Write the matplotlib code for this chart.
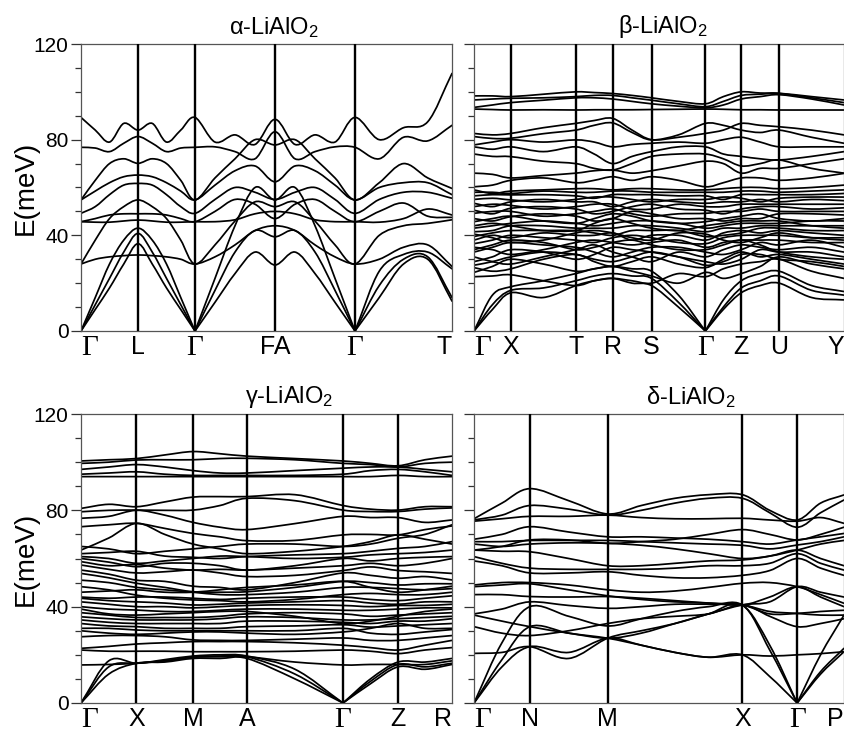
import numpy as np
import matplotlib
matplotlib.use("Agg")
import matplotlib.pyplot as plt
from matplotlib.path import Path
from matplotlib.patches import PathPatch
from matplotlib.ticker import MultipleLocator

plt.rcParams['font.family'] = ['Liberation Sans', 'DejaVu Sans']
plt.rcParams['mathtext.fontset'] = 'custom'
plt.rcParams['mathtext.rm'] = 'Liberation Sans'
plt.rcParams['mathtext.it'] = 'Liberation Sans'

# ---------------- alpha-LiAlO2 ----------------
alpha_title = "α-LiAlO$_2$"
alpha_labels = ["Γ", "L", "Γ", "FA", "Γ", "T"]
alpha_hs = [0, 57, 114, 194, 274, 371]
alpha_nint = [3, 3, 3, 3, 3]
alpha_bands = [
    [89.3, 84, 79, 86.8, 84, 86.8, 79, 84, 89.3, 79, 82, 78, 88.5, 78, 82, 79, 89.3, 80, 85, 87.5, 107.7],
    [76.8, 76.5, 75, 78.5, 81.3, 78.5, 75, 76.5, 76.8, 77, 75, 72, 83.3, 72, 75, 77, 76.8, 72, 81, 79.5, 86],
    [54.8, 63, 70, 72, 70.1, 72, 70, 63, 54.8, 64, 72, 80, 77.8, 80, 72, 64, 54.8, 62, 70, 64, 59.6],
    [54.8, 58.5, 62, 64.5, 65.2, 64.5, 62, 58.5, 54.8, 61, 67, 69, 62.4, 69, 67, 61, 54.8, 60, 62, 62, 57],
    [49.2, 52, 57, 61, 61.7, 61, 57, 52, 49.2, 55, 60, 58, 55, 58, 60, 55, 49.2, 55, 58, 58, 55.5],
    [28, 38, 47, 52, 54.8, 52, 47, 38, 28, 36, 46, 54, 52, 54, 46, 36, 28, 40, 44, 45, 46.5],
    [45.7, 45.5, 45.5, 46, 46.4, 46, 45.5, 45.5, 45.7, 45.7, 46.5, 49, 50, 49, 46.5, 45.7, 45.7, 45.5, 47, 51, 48.5],
    [45.7, 47, 48.5, 49, 49, 49, 48.5, 47, 45.7, 50, 55, 53, 47, 53, 55, 50, 45.7, 50, 53.5, 48, 47.5],
    [28, 30, 31, 31.5, 31.8, 31.5, 31, 30, 28, 31, 36, 42, 44, 42, 36, 31, 28, 30, 35, 36, 27],
    [0, 14, 28, 38, 43, 38, 28, 14, 0, 22, 44, 60, 54.8, 60, 44, 22, 0, 25, 32, 33, 26],
    [0, 11, 22, 33, 40.8, 33, 22, 11, 0, 17, 33, 42, 39.4, 42, 33, 17, 0, 19, 30, 31, 14],
    [0, 9, 18, 28, 36.5, 28, 18, 9, 0, 12, 24, 33, 27.6, 33, 24, 12, 0, 14, 28, 30, 12.5],
]

# ---------------- beta-LiAlO2 ----------------
beta_title = "β-LiAlO$_2$"
beta_labels = ["Γ", "X", "T", "R", "S", "Γ", "Z", "U", "Y"]
beta_hs = [0, 37, 102, 139, 178, 232, 268, 306, 371]
beta_nint = [1, 1, 1, 1, 1, 1, 1, 1]
beta_bands = [
    [98.3, 98.3, 98.0, 99.0, 100, 99.7, 99.3, 98.5, 97.5, 96, 95, 98, 100, 99.5, 99.4, 98, 96.6],
    [96.6, 97, 97.3, 97.5, 98, 98.5, 98.5, 97.5, 96.5, 95, 93.8, 96, 98.5, 99, 99.3, 97.5, 95.5],
    [93.5, 94.5, 95.5, 96.5, 97.5, 97.5, 97, 96, 95, 94, 93.3, 94.5, 97, 98, 98.8, 97, 94.5],
    [92.8, 92.6, 92.4, 92.5, 92.4, 92.5, 92.5, 92.5, 92.6, 92.7, 92.8, 92.7, 92.5, 92.5, 92.4, 92.4, 92.4],
    [82.6, 82, 82.6, 85, 86.8, 88, 88.9, 84, 80, 81, 82.6, 84, 86.8, 86, 85.4, 84, 82],
    [81.3, 80.5, 80.6, 82.5, 84, 86, 87, 83, 79.9, 82, 86.8, 86, 84, 83, 84, 81, 78.5],
    [77.8, 79, 80, 79, 79.9, 79, 77, 78, 78.5, 79, 78.5, 80, 81, 79, 77, 77, 77],
    [77, 76, 77, 75, 77, 74, 70, 73, 75, 77, 77, 74, 73, 72, 71.5, 73, 75],
    [74, 73, 72.9, 71, 70, 68, 67.3, 70, 73, 74, 74, 72, 69, 70, 71.5, 68, 66],
    [66, 65.5, 64, 65, 66, 67, 67.3, 66, 67, 69, 71, 70, 66, 68, 68, 70, 72],
    [60.3, 61, 63, 64, 62, 63, 64.5, 63, 64.5, 63, 60.3, 62, 64, 64, 63, 64, 65.9],
    [45.7, 47, 48, 46, 45, 47, 49, 48, 46, 45, 45.7, 47, 48, 49, 47, 46, 47],
    [47, 46, 47.8, 49, 48, 46, 47, 50, 49, 47, 47, 46, 47, 47, 49, 49, 48.5],
    [49.2, 50, 50, 48, 49, 50, 51, 49, 48, 49, 49.2, 50, 50, 51, 50, 50, 50],
    [50.5, 49, 51.3, 52, 51, 49, 50, 52, 53, 51, 50.5, 49, 51, 52, 52, 51, 51.5],
    [52, 53, 52.5, 51, 52, 53, 53, 51, 51, 53, 52, 52, 53, 53, 53, 53, 53],
    [53.4, 52, 54, 55, 54, 54, 52, 54, 55, 54, 53.4, 54, 54, 55, 54, 55, 54.5],
    [55, 55.5, 54.8, 54, 55, 56, 56, 55, 54, 55, 55, 56, 55.5, 54, 55.5, 56, 56],
    [56.5, 57, 56.9, 57, 56.5, 55.5, 57, 57, 57, 56.5, 56.5, 55, 57, 57, 57, 57, 57.5],
    [58, 58, 57.5, 58.5, 58, 58, 58.5, 58.5, 58, 58, 58, 58, 58.5, 58.5, 58, 58.5, 59],
    [59, 57.5, 58.5, 59, 59.5, 59.5, 59, 59.5, 59.5, 59, 59, 59.5, 60, 60, 59.5, 60, 61],
    [22.7, 23, 23.5, 21, 19, 21, 22, 21, 20, 24, 22.7, 26, 28, 29, 30, 25, 22],
    [24.5, 27, 30, 28, 25, 26, 27, 25, 23, 20, 24.5, 22, 24, 27, 31, 28, 26],
    [26.5, 25, 26, 30, 32, 29, 27, 29, 31, 28, 26.5, 30, 33, 31, 32, 30, 28],
    [29, 31, 34, 33, 30, 32, 35, 34, 33, 31, 29, 28, 30, 34, 33, 33, 31],
    [31, 29, 28, 31, 34, 36, 33, 31, 29, 33, 31, 34, 36, 35, 34, 35, 33],
    [33, 35, 37, 36, 35, 33, 31, 33, 35, 35, 33, 32, 34, 37, 36, 38, 35],
    [35, 34, 32, 34, 37, 38, 37, 36, 37, 38, 35, 37, 38, 38, 38, 37, 37],
    [36.5, 38, 40, 39, 38, 37, 39, 40, 39, 37, 36.5, 39, 40, 40, 40, 39, 39],
    [38, 40, 39, 41, 40, 40, 41, 38, 40, 40, 38, 41, 42, 41, 42, 41, 40],
    [39.5, 41, 42, 42, 42, 41, 40, 42, 42, 42, 39.5, 40, 41, 43, 43, 42, 42],
    [41.5, 42, 44, 44, 43, 43, 43, 44, 44, 43, 41.5, 43, 43, 44, 44, 44, 44],
    [43, 44, 45, 46, 45, 44, 45, 46, 46, 45, 43, 44, 45, 45, 45, 46, 46],
    [27.5, 29, 31, 33, 32, 30, 29, 31, 33, 31, 27.5, 29, 32, 32, 30, 29, 27],
    [34, 36, 38, 37, 34, 35, 37, 38, 36, 34, 34, 36, 38, 36, 33, 31, 30],
    [40.5, 39, 37, 38, 41, 42, 41, 39, 38, 41, 40.5, 38, 37, 39, 41, 39, 38],
    [44, 45, 44, 42, 42, 45, 47, 45, 43, 42, 44, 45, 46, 46, 46, 44, 43],
    [0, 9, 16, 14, 19, 21, 22, 20, 19, 10, 0, 9, 16, 19, 20, 14, 13],
    [0, 11, 17, 18, 21, 23, 24, 23, 22, 12, 0, 10, 18, 21, 23, 17, 15],
    [0, 15, 18.5, 21, 24, 26, 27, 26, 25, 15, 0, 13, 21, 24, 25, 19, 16.5],
]

# ---------------- gamma-LiAlO2 ----------------
gamma_title = "γ-LiAlO$_2$"
gamma_labels = ["Γ", "X", "M", "A", "Γ", "Z", "R"]
gamma_hs = [0, 55.5, 112, 166, 262, 317, 371]
gamma_nint = [1, 1, 1, 1, 1, 1]
gamma_bands = [
    [100.5, 101, 101.5, 103, 104.4, 103.5, 102.5, 101.5, 100.5, 99.5, 98.5, 101, 102.5],
    [99.5, 100, 100.9, 101, 101, 101.5, 101.6, 101, 99.5, 99, 98, 99.5, 100],
    [97, 98, 99, 98, 96.5, 95.5, 95.5, 96.5, 97.5, 98, 98, 97, 96],
    [95, 95.5, 96, 95, 94.5, 94.5, 94.5, 94.5, 95, 96.5, 97, 96, 94.5],
    [94, 94, 94, 94, 94, 94, 94, 94, 94, 94, 94.5, 94, 94],
    [80.8, 82.5, 81.5, 83.5, 85.5, 85.7, 85.7, 86.5, 82, 80.5, 80.1, 81.5, 81.5],
    [79.4, 80, 80.1, 80, 80.1, 82, 85, 84, 80.1, 79.5, 79.5, 80.5, 81],
    [76.7, 77.5, 80, 78, 75, 73, 72, 74.5, 77.5, 77, 77, 75, 76],
    [73.2, 74, 74.6, 72.5, 70.4, 69, 67.4, 67.5, 69.8, 70, 69.8, 72, 73.5],
    [63.5, 68.5, 74.6, 70, 66, 64, 62, 63, 65, 67, 69.8, 68, 66],
    [62, 62.5, 63, 61, 60.5, 60, 60.8, 61.5, 62, 63, 64.2, 65, 67],
    [60.8, 60, 58, 59, 60, 61, 60.8, 60, 60.5, 61.5, 62, 62.5, 63.5],
    [60, 58.5, 56.6, 58, 58, 57, 55.2, 57, 60, 59, 60, 60.5, 60.8],
    [58.7, 57, 57.5, 56, 55.2, 55.5, 55.2, 56, 57, 58, 57, 58, 60],
    [57.3, 55.5, 54, 54.5, 55.2, 54, 52.5, 53, 55, 56.5, 55, 54.5, 53.8],
    [55.2, 53.5, 51, 50.5, 48.5, 48, 47, 50, 54, 53, 51.8, 52.5, 51.1],
    [53.8, 52, 49.7, 48, 46.2, 46, 46.2, 48, 50.5, 50, 49, 49.5, 49.5],
    [51, 50, 48, 47, 46, 45, 45, 46, 48, 48, 47.5, 47, 47.5],
    [48.3, 47, 44.8, 43.5, 42.8, 42.5, 42, 43, 45, 45.5, 45, 45, 46],
    [44, 43.5, 44, 44, 43.5, 43, 43.5, 44, 44, 43, 42.5, 43.5, 44.5],
    [43.5, 42.5, 42, 41.5, 40.7, 41, 41.5, 42, 42.5, 41.5, 41, 42, 42],
    [42, 41, 40, 40, 39.5, 40, 40.5, 40.8, 40.5, 40, 40.5, 40.5, 41],
    [40, 39, 38.6, 38, 38, 38.5, 39, 39, 38.5, 38.5, 39, 39.5, 39.5],
    [37.5, 36.5, 35.5, 35.5, 35.5, 36, 37, 37.5, 37, 36, 36.5, 37, 37.5],
    [35.8, 35, 34.5, 34.5, 34.5, 35, 35.8, 35.5, 34.5, 34.5, 35, 35.5, 36],
    [34.5, 33.5, 33, 33, 33, 33, 34, 34, 33.5, 33, 34, 34, 35],
    [33, 32, 31.7, 31, 31, 31, 31.7, 32, 32.5, 31.5, 32, 32.5, 33],
    [31, 31, 30.3, 30, 30, 30, 30, 30, 31, 29, 28.5, 29.5, 30.5],
    [27.5, 28, 28, 27.5, 26.2, 26, 26, 26.5, 27, 26, 26, 27, 28],
    [22.7, 23.5, 24.5, 25, 25.5, 25.5, 25.5, 25, 24, 23, 22, 24, 26],
    [22, 21.5, 21.5, 21.5, 21.3, 21.3, 21.3, 21.5, 22, 21.5, 20.5, 22, 23],
    [15.8, 16, 16.5, 17.5, 19, 19.2, 19.2, 17, 15.8, 16, 16, 16, 17.5],
    [39, 37, 36.5, 37, 37.5, 38, 38, 36, 33, 34, 36, 38, 39],
    [30, 29, 28.5, 29, 29.5, 29.5, 29, 28.5, 29.5, 31, 33, 31, 31],
    [46, 46.5, 47, 46, 46, 47, 48, 49, 50.5, 48, 46, 47, 48.5],
    [65, 64, 62, 63, 64, 65, 66, 66, 65, 66, 68.4, 70, 74],
    [0, 12, 16.5, 17, 18.5, 18.5, 18.5, 10, 0, 8, 15, 14, 16],
    [0, 15, 16.5, 17.5, 19, 19.5, 19.2, 12, 0, 9, 16, 15, 16.5],
    [0, 17.5, 16.5, 18, 19.5, 20, 19.5, 14, 0, 10, 17, 17, 18.5],
]

# ---------------- delta-LiAlO2 ----------------
delta_title = "δ-LiAlO$_2$"
delta_labels = ["Γ", "N", "M", "X", "Γ", "P"]
delta_hs = [0, 56, 134, 269, 324, 371]
delta_nint = [1, 1, 3, 1, 1]
delta_bands = [
    [76.5, 83, 89, 84, 78.5, 82, 85, 86.5, 86.5, 80, 76, 83, 86.4],
    [76, 78, 82, 80.5, 78, 80, 83, 85, 85, 79, 73, 79, 84.3],
    [75.5, 76.5, 77.5, 77.5, 78, 77, 76.5, 76.5, 76.7, 76, 75.5, 77, 74.6],
    [68, 70, 73.2, 71, 69, 69, 68.5, 68, 67, 66, 67.7, 69, 70.4],
    [67, 67, 67.5, 67.5, 67.5, 67, 66.5, 66, 65.5, 64, 65.6, 67, 69],
    [66, 65, 66, 66.5, 66.3, 65.5, 64, 62, 60, 61, 63.5, 66, 67.5],
    [63.5, 65, 67.7, 67.7, 66.3, 67, 68, 70, 72, 70, 67.7, 70, 73],
    [63.5, 63, 62.8, 60, 57, 57, 58, 59, 59.4, 61, 63.5, 60, 57],
    [60.8, 58, 56, 55.5, 55.5, 55.5, 56, 57, 57, 58, 62, 58, 55.2],
    [59, 57, 54, 54, 54.5, 53, 52, 52, 53, 55, 60, 56, 53],
    [49, 50, 50, 49, 47, 46, 46.5, 48, 49.7, 50, 48.3, 45, 41.4],
    [48.3, 49, 49.5, 47, 44.5, 43, 42, 41.5, 40.7, 44, 48.3, 44, 40],
    [45, 45, 44.2, 44, 44.2, 43.5, 42.5, 41.5, 40.7, 37, 37.2, 38, 38.5],
    [37, 39, 42, 40.5, 39.3, 40, 41, 41, 40.7, 38, 37.2, 36.5, 36.5],
    [36.5, 34, 31.7, 29, 26.9, 24, 21, 19, 20, 19.5, 20, 20.5, 21.3],
    [31.7, 29, 28, 30, 33, 35, 36, 37, 40.7, 36, 31.7, 33, 35],
    [20.6, 21, 23.4, 18.5, 26.9, 30, 33, 37, 40.7, 42, 48.3, 46, 44],
    [0, 15, 23.4, 21, 26.9, 24, 21, 19, 20, 11, 0, 12, 21.3],
    [0, 18, 31.7, 29, 26.9, 29, 33, 37, 40.7, 22, 0, 13, 22.7],
    [0, 25, 40, 36, 32, 35, 38, 40, 40.7, 24, 0, 20, 36.5],
]

yticks_major = [0, 40, 80, 120]


def kgrid(hs, nint):
    xs = [hs[0]]
    hs_idx = [0]
    for a, b, n in zip(hs[:-1], hs[1:], nint):
        for j in range(1, n + 2):
            xs.append(a + (b - a) * j / (n + 1))
        hs_idx.append(len(xs) - 1)
    return np.array(xs, float), hs_idx


def band_path(xs, ys, hs_idx):
    ys = np.asarray(ys, float)
    # smooth everywhere, but keep a cusp where an acoustic branch touches zero
    brk = [0] + [i for i in hs_idx[1:-1] if ys[i] == 0] + [len(xs) - 1]
    verts = [(xs[0], ys[0])]
    codes = [Path.MOVETO]
    for i0, i1 in zip(brk[:-1], brk[1:]):
        px = np.asarray(xs[i0:i1 + 1], float)
        py = ys[i0:i1 + 1]
        n = len(px)
        tx = np.zeros(n)
        ty = np.zeros(n)
        for j in range(n):
            if j == 0:
                tx[j], ty[j] = px[1] - px[0], py[1] - py[0]
            elif j == n - 1:
                tx[j], ty[j] = px[-1] - px[-2], py[-1] - py[-2]
            else:
                tx[j], ty[j] = (px[j + 1] - px[j - 1]) / 2, (py[j + 1] - py[j - 1]) / 2
        for j in range(n - 1):
            verts += [(px[j] + tx[j] / 3, py[j] + ty[j] / 3),
                      (px[j + 1] - tx[j + 1] / 3, py[j + 1] - ty[j + 1] / 3),
                      (px[j + 1], py[j + 1])]
            codes += [Path.CURVE4] * 3
    return Path(verts, codes)


def panel(ax, title, labels, hs, nint, bands, ylab, title_x):
    xs, hs_idx = kgrid(hs, nint)
    for b in bands:
        ax.add_patch(PathPatch(band_path(xs, b, hs_idx), fill=False, edgecolor='black',
                               lw=1.25, capstyle='round', joinstyle='round'))
    for h in hs[1:-1]:
        ax.axvline(h, color='black', lw=1.7, zorder=3)
    ax.set_xlim(hs[0], hs[-1])
    ax.set_ylim(0, 120)
    ax.set_xticks(hs)
    ax.set_xticklabels(labels)
    for i, t in enumerate(ax.get_xticklabels()):
        if t.get_text() == "Γ":
            t.set_fontfamily('Liberation Serif')
            t.set_fontsize(21)
        else:
            t.set_fontsize(18)
        if i == 0:
            t.set_ha('left')
        elif i == len(labels) - 1:
            t.set_ha('right')
    ax.tick_params(axis='x', length=0, pad=3)
    ax.set_yticks(yticks_major)
    ax.yaxis.set_minor_locator(MultipleLocator(10))
    ax.tick_params(axis='y', which='major', direction='out', length=7, width=0.9,
                   labelsize=15, pad=2, colors='#333333', labelcolor='black',
                   labelleft=ylab)
    ax.tick_params(axis='y', which='minor', direction='out', length=4, width=0.9,
                   colors='#333333')
    for s in ax.spines.values():
        s.set_color('#555555')
        s.set_linewidth(0.9)
    if ylab:
        ax.set_ylabel("E(meV)", fontsize=20, labelpad=0)
        ax.yaxis.set_label_coords(-0.115, 0.5)
    ax.text(title_x, 1.015, title, transform=ax.transAxes, ha='center', va='bottom',
            fontsize=17)


fig = plt.figure(figsize=(8.45, 7.35), dpi=100)
ax_a = fig.add_axes([81 / 845, 1 - 331 / 735, 371 / 845, 287 / 735])
ax_b = fig.add_axes([474 / 845, 1 - 331 / 735, 370 / 845, 287 / 735])
ax_g = fig.add_axes([81 / 845, 1 - 703 / 735, 371 / 845, 289 / 735])
ax_d = fig.add_axes([474 / 845, 1 - 703 / 735, 370 / 845, 289 / 735])

panel(ax_a, alpha_title, alpha_labels, alpha_hs, alpha_nint, alpha_bands, True, 0.52)
panel(ax_b, beta_title, beta_labels, beta_hs, beta_nint, beta_bands, False, 0.51)
panel(ax_g, gamma_title, gamma_labels, gamma_hs, gamma_nint, gamma_bands, True, 0.56)
panel(ax_d, delta_title, delta_labels, delta_hs, delta_nint, delta_bands, False, 0.585)

fig.savefig("out.png", dpi=100, facecolor='white')
